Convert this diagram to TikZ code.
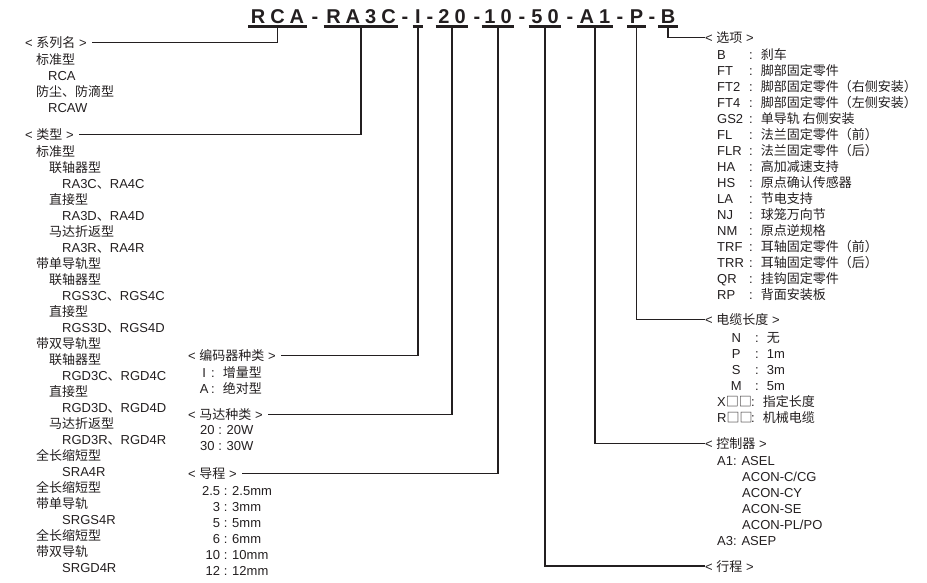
\documentclass[tikz,border=0pt]{standalone}
\usepackage{fontspec}
\setmainfont{Liberation Sans}
\newfontfamily\zh{Noto Sans CJK SC}
\usetikzlibrary{positioning}
\definecolor{inkgray}{HTML}{231F20}
\newcommand\ls{\kern5pt}
\newcommand\kv[4][l]{\makebox[#2][#1]{#3}:\hspace{8pt}#4}
\tikzset{
  seg/.style={anchor=base, inner xsep=2.5pt, inner ysep=3pt, text=inkgray,
    font=\fontsize{20}{20}\selectfont\bfseries},
  hyph/.style={anchor=base, inner sep=0pt, text=inkgray,
    font=\fontsize{20}{20}\selectfont\bfseries},
  uline/.style={line width=3pt, draw=inkgray},
  conn/.style={line width=1.2pt, draw=inkgray},
  head/.style={anchor=base west, inner sep=0pt, text=inkgray,
    font=\fontsize{13}{16}\selectfont},
  item/.style={anchor=base west, inner sep=0pt, text=inkgray,
    font=\fontsize{13}{16}\selectfont}
}
\begin{document}
\begin{tikzpicture}[x=1pt, y=-1pt]
  \useasboundingbox (0,0) rectangle (927,583);
  % model code
  \node[seg] (series) at (277.5,23.5) {R\ls C\ls A};
  \node[hyph] (h1) at (315,23.5) {-};
  \node[seg] (type) at (361,23.5) {R\ls A\ls 3\ls C};
  \node[hyph] (h2) at (405,23.5) {-};
  \node[seg] (enc) at (418,23.5) {I};
  \node[hyph] (h3) at (430,23.5) {-};
  \node[seg] (motor) at (452,23.5) {2\ls 0};
  \node[hyph] (h4) at (477,23.5) {-};
  \node[seg] (lead) at (498,23.5) {1\ls 0};
  \node[hyph] (h5) at (522,23.5) {-};
  \node[seg] (stroke) at (545,23.5) {5\ls 0};
  \node[hyph] (h6) at (570,23.5) {-};
  \node[seg] (ctrl) at (595,23.5) {A\ls 1};
  \node[hyph] (h7) at (620,23.5) {-};
  \node[seg] (cable) at (636.5,23.5) {P};
  \node[hyph] (h8) at (652,23.5) {-};
  \node[seg] (option) at (668,23.5) {B};
  \foreach \s in {series,type,enc,motor,lead,stroke,ctrl,cable,option}
    \draw[uline] (\s.south west) -- (\s.south east);

  % series
  \node[head] (hseries) at (25,47.5) {< {\zh 系列名} >};
  \foreach \dx/\txt [count=\i] in {36/{\zh 标准型}, 48/RCA,
      36/{\zh 防尘、防滴型}, 48/RCAW}
    \node[item] (se\i) at (\dx,48.5+16*\i) {\txt};

  % type
  \node[head] (htype) at (25,139.5) {< {\zh 类型} >};
  \foreach \dx/\txt [count=\i] in {
      36/{\zh 标准型}, 49/{\zh 联轴器型}, 62/{RA3C{\zh 、}RA4C},
      49/{\zh 直接型}, 62/{RA3D{\zh 、}RA4D},
      49/{\zh 马达折返型}, 62/{RA3R{\zh 、}RA4R},
      36/{\zh 带单导轨型}, 49/{\zh 联轴器型}, 62/{RGS3C{\zh 、}RGS4C},
      49/{\zh 直接型}, 62/{RGS3D{\zh 、}RGS4D},
      36/{\zh 带双导轨型}, 49/{\zh 联轴器型}, 62/{RGD3C{\zh 、}RGD4C},
      49/{\zh 直接型}, 62/{RGD3D{\zh 、}RGD4D},
      49/{\zh 马达折返型}, 62/{RGD3R{\zh 、}RGD4R},
      36/{\zh 全长缩短型}, 62/SRA4R,
      36/{\zh 全长缩短型}, 36/{\zh 带单导轨}, 62/SRGS4R,
      36/{\zh 全长缩短型}, 36/{\zh 带双导轨}, 62/SRGD4R}
    \node[item] (ty\i) at (\dx,140.5+16*\i) {\txt};

  % encoder, motor, lead
  \node[head] (henc) at (188,360.5) {< {\zh 编码器种类} >};
  \node[item] (en1) at (197,377) {\kv[c]{14pt}{I}{\zh 增量型}};
  \node[item] (en2) at (197,393) {\kv[c]{14pt}{A}{\zh 绝对型}};
  \node[head] (hmotor) at (188,419.5) {< {\zh 马达种类} >};
  \node[item] (mo1) at (200,434.5) {20 : 20W};
  \node[item] (mo2) at (200,450.5) {30 : 30W};
  \node[head] (hlead) at (188,478.5) {< {\zh 导程} >};
  \foreach \k/\v [count=\i] in {2.5/2.5mm, 3/3mm, 5/5mm, 6/6mm, 10/10mm, 12/12mm}
    \node[item] (le\i) at (201,479.5+16*\i) {\makebox[19pt][r]{\k} : \v};

  % options
  \node[head] (hoption) at (705,42.5) {< {\zh 选项} >};
  \foreach \k/\v [count=\i] in {B/刹车, FT/脚部固定零件,
      FT2/脚部固定零件（右侧安装）, FT4/脚部固定零件（左侧安装）,
      GS2/单导轨 右侧安装, FL/法兰固定零件（前）, FLR/法兰固定零件（后）,
      HA/高加减速支持, HS/原点确认传感器, LA/节电支持, NJ/球笼万向节,
      NM/原点逆规格, TRF/耳轴固定零件（前）, TRR/耳轴固定零件（后）,
      QR/挂钩固定零件, RP/背面安装板}
    \node[item] (op\i) at (717,43.5+16*\i) {\kv{32pt}{\k}{\zh \v}};

  % cable length
  \node[head] (hcable) at (705,324.5) {< {\zh 电缆长度} >};
  \foreach \k/\v [count=\i] in {N/{\zh 无}, P/1m, S/3m, M/5m}
    \node[item] (ca\i) at (717,326.5+16*\i) {\kv[c]{38pt}{\k}{\v}};
  \node[item] (ca5) at (717,406.5) {\kv{34pt}{X{\zh □□}}{\zh 指定长度}};
  \node[item] (ca6) at (717,422.5) {\kv{34pt}{R{\zh □□}}{\zh 机械电缆}};

  % controller
  \node[head] (hctrl) at (705,448.5) {< {\zh 控制器} >};
  \node[item] (ct1) at (717,465) {A1: ASEL};
  \foreach \txt [count=\i] in {ACON-C/CG, ACON-CY, ACON-SE, ACON-PL/PO}
    \node[item] (ac\i) at (742,465+16*\i) {\txt};
  \node[item] (ct2) at (717,545) {A3: ASEP};

  % stroke
  \node[head] (hstroke) at (705,571) {< {\zh 行程} >};

  % connectors
  \draw[conn, shorten >=5pt] (series.south) |- (hseries.east);
  \draw[conn, shorten >=5pt] (type.south) |- (htype.east);
  \draw[conn, shorten >=5pt] (enc.south) |- (henc.east);
  \draw[conn, shorten >=5pt] (motor.south) |- (hmotor.east);
  \draw[conn, shorten >=5pt] (lead.south) |- (hlead.east);
  \draw[conn] (stroke.south) |- (hstroke.west);
  \draw[conn] (ctrl.south) |- (hctrl.west);
  \draw[conn] (cable.south) |- (hcable.west);
  \draw[conn] (option.south) |- (hoption.west);
\end{tikzpicture}
\end{document}
